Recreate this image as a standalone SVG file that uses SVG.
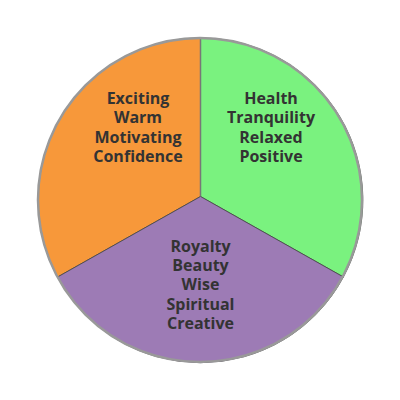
<svg xmlns="http://www.w3.org/2000/svg" width="400" height="400" viewBox="0 0 400 400">
<style>
.lbl{font-family:"Open Sans","Noto Sans","Liberation Sans",sans-serif;font-weight:700;font-size:16px;fill:#333;text-anchor:middle}
.sl{stroke:#444;stroke-width:0.8}
</style>
<rect width="400" height="400" fill="#fff"/>
<g id="slice-orange">
<path class="sl" d="M200.5,196.5 L200.5,38 A162,162 0 0 0 57.6,277 Z" fill="#F7983A"/>
<text class="lbl" x="138" y="104">Exciting</text>
<text class="lbl" x="138" y="123.3">Warm</text>
<text class="lbl" x="138" y="142.6">Motivating</text>
<text class="lbl" x="138" y="161.9">Confidence</text>
</g>
<g id="slice-green">
<path class="sl" d="M200.5,196.5 L200.5,38 A162,162 0 0 1 343.4,277 Z" fill="#7AF27F"/>
<text class="lbl" x="271" y="104">Health</text>
<text class="lbl" x="271" y="123.3">Tranquility</text>
<text class="lbl" x="271" y="142.6">Relaxed</text>
<text class="lbl" x="271" y="161.9">Positive</text>
</g>
<g id="slice-purple">
<path class="sl" d="M200.5,196.5 L57.6,277 A162,162 0 0 0 343.4,277 Z" fill="#9D7BB5"/>
<text class="lbl" x="200.5" y="251.7">Royalty</text>
<text class="lbl" x="200.5" y="271">Beauty</text>
<text class="lbl" x="200.5" y="290.3">Wise</text>
<text class="lbl" x="200.5" y="309.6">Spiritual</text>
<text class="lbl" x="200.5" y="328.9">Creative</text>
</g>
<g id="connectors">
<line x1="200.5" y1="38" x2="200.5" y2="196.5" stroke="#777" stroke-width="1.5"/>
<circle cx="200" cy="200" r="162" fill="none" stroke="#999" stroke-width="2.5"/>
</g>
</svg>
